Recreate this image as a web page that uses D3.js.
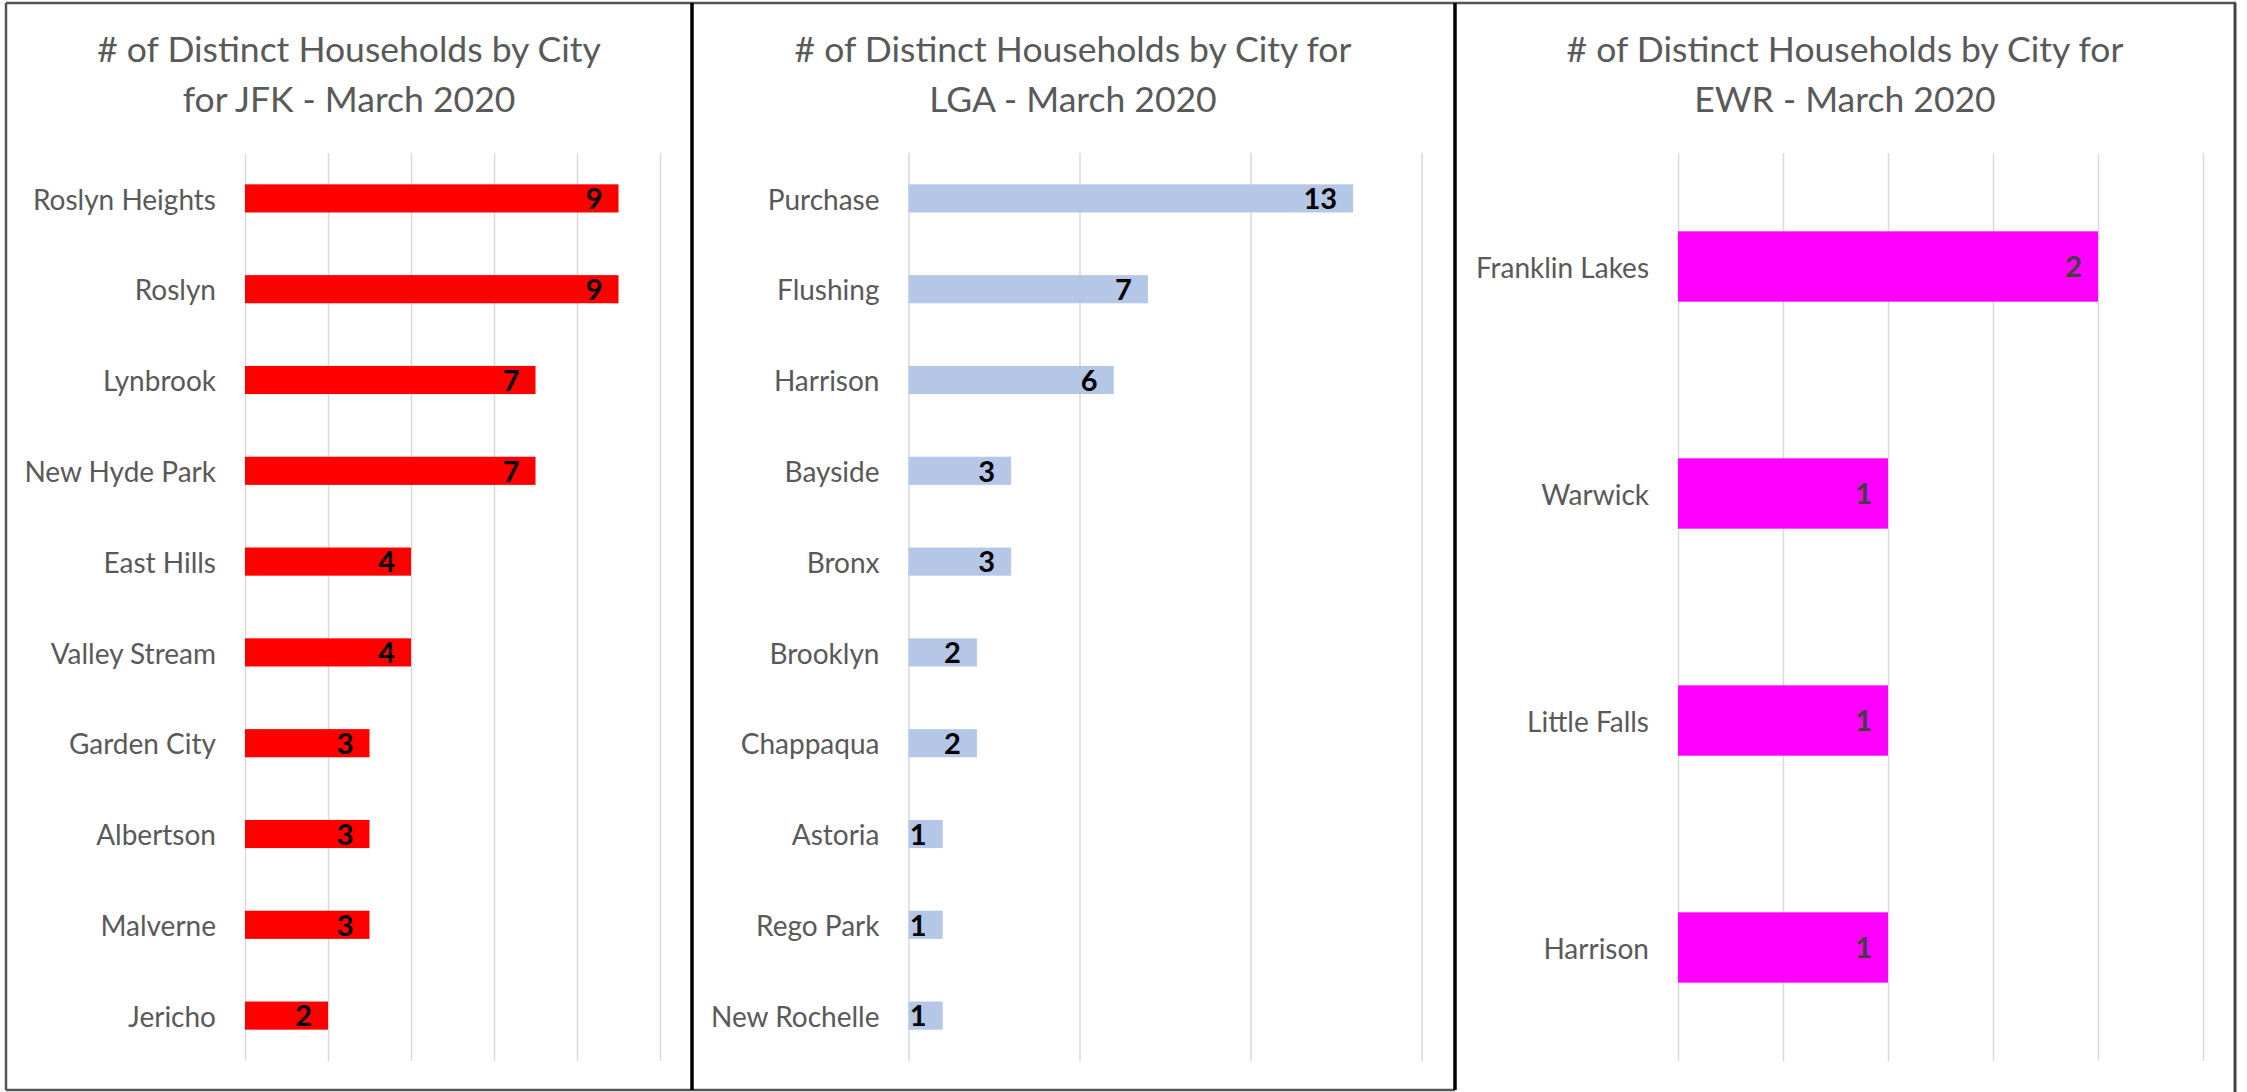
<!DOCTYPE html>
<html>
<head>
<meta charset="utf-8">
<script src="https://cdn.jsdelivr.net/npm/d3@7"></script>
<style>
  body { margin: 0; background: #fff; }
  svg { display: block; }
  .cat text { font-family: Lato, "Open Sans", sans-serif; font-size: 28px; fill: #595959; }
  .title { font-family: Lato, "Open Sans", sans-serif; font-size: 35.5px; fill: #595959; }
  .val { font-family: Lato, "Open Sans", sans-serif; font-size: 29px; font-weight: bold; }
</style>
</head>
<body>
<svg id="chart" width="2247" height="1092"></svg>
<script>
// JFK
var jfkCities = ["Roslyn Heights", "Roslyn", "Lynbrook", "New Hyde Park", "East Hills",
  "Valley Stream", "Garden City", "Albertson", "Malverne", "Jericho"];
var jfkValues = [9, 9, 7, 7, 4, 4, 3, 3, 3, 2];
var jfkTicks = [0, 2, 4, 6, 8, 10];

// LGA
var lgaCities = ["Purchase", "Flushing", "Harrison", "Bayside", "Bronx",
  "Brooklyn", "Chappaqua", "Astoria", "Rego Park", "New Rochelle"];
var lgaValues = [13, 7, 6, 3, 3, 2, 2, 1, 1, 1];
var lgaTicks = [0, 5, 10, 15];

// EWR
var ewrCities = ["Franklin Lakes", "Warwick", "Little Falls", "Harrison"];
var ewrValues = [2, 1, 1, 1];
var ewrTicks = [0, 0.5, 1, 1.5, 2, 2.5];

var titles = [
  ["# of Distinct Households by City", "for JFK - March 2020"],
  ["# of Distinct Households by City for", "LGA - March 2020"],
  ["# of Distinct Households by City for", "EWR - March 2020"]
];

var svg = d3.select("#chart");

function panel(cfg) {
  var g = svg.append("g");
  var x = d3.scaleLinear().domain([0, cfg.ticks[cfg.ticks.length - 1]]).range([cfg.x0, cfg.x1]);
  var y = d3.scaleBand().domain(cfg.cities).range([153, 1061]).paddingInner(0.69).paddingOuter(0.345);

  // title
  var t = g.append("text").attr("class", "title").attr("text-anchor", "middle");
  t.selectAll("tspan").data(cfg.title).enter().append("tspan")
    .attr("x", cfg.cx)
    .attr("y", function(d, i) { return 62 + i * 50; })
    .text(function(d) { return d; });

  // gridlines
  var grid = g.append("g").attr("transform", "translate(0,1061)")
    .call(d3.axisBottom(x).tickValues(cfg.ticks).tickSize(-908).tickFormat(""));
  grid.select(".domain").remove();
  grid.selectAll("line").attr("stroke", "#d9d9d9").attr("stroke-width", 1.5);

  // bars
  g.selectAll("rect.bar").data(cfg.values).enter().append("rect")
    .attr("class", "bar")
    .attr("x", x(0))
    .attr("y", function(d, i) { return y(cfg.cities[i]); })
    .attr("width", function(d) { return x(d) - x(0); })
    .attr("height", y.bandwidth())
    .attr("fill", cfg.color);

  // value labels
  g.selectAll("text.val").data(cfg.values).enter().append("text")
    .attr("class", "val")
    .attr("x", function(d) { return x(d) - 16; })
    .attr("y", function(d, i) { return y(cfg.cities[i]) + y.bandwidth() / 2; })
    .attr("dy", "0.37em")
    .attr("text-anchor", "end")
    .attr("fill", cfg.labelColor)
    .text(function(d) { return d; });

  // category axis
  var ax = g.append("g").attr("class", "cat").attr("transform", "translate(" + x(0) + ",0)")
    .call(d3.axisLeft(y).tickSize(0).tickPadding(29));
  ax.select(".domain").remove();
  ax.selectAll("text").attr("dy", "0.4em");
}

panel({ cities: jfkCities, values: jfkValues, ticks: jfkTicks, x0: 245, x1: 660,
  cx: 349, title: titles[0], color: "#ff0000", labelColor: "#000" });
panel({ cities: lgaCities, values: lgaValues, ticks: lgaTicks, x0: 908.5, x1: 1421.5,
  cx: 1073, title: titles[1], color: "#b4c7e7", labelColor: "#000" });
panel({ cities: ewrCities, values: ewrValues, ticks: ewrTicks, x0: 1678, x1: 2203,
  cx: 1845, title: titles[2], color: "#ff00ff", labelColor: "#404040" });

// frame
var frame = svg.append("g");
frame.append("line").attr("x1", 6).attr("x2", 2236).attr("y1", 3).attr("y2", 3)
  .attr("stroke", "#555").attr("stroke-width", 2.5);
frame.append("line").attr("x1", 6).attr("x2", 6).attr("y1", 3).attr("y2", 1090)
  .attr("stroke", "#555").attr("stroke-width", 2.5);
frame.append("line").attr("x1", 6).attr("x2", 1455).attr("y1", 1090).attr("y2", 1090)
  .attr("stroke", "#555").attr("stroke-width", 2.5);
frame.append("line").attr("x1", 2235).attr("x2", 2235).attr("y1", 3).attr("y2", 1092)
  .attr("stroke", "#444").attr("stroke-width", 3);
frame.selectAll("line.div").data([692, 1455]).enter().append("line")
  .attr("class", "div")
  .attr("x1", function(d) { return d; }).attr("x2", function(d) { return d; })
  .attr("y1", 3).attr("y2", 1090)
  .attr("stroke", "#000").attr("stroke-width", 3.5);
</script>
</body>
</html>
